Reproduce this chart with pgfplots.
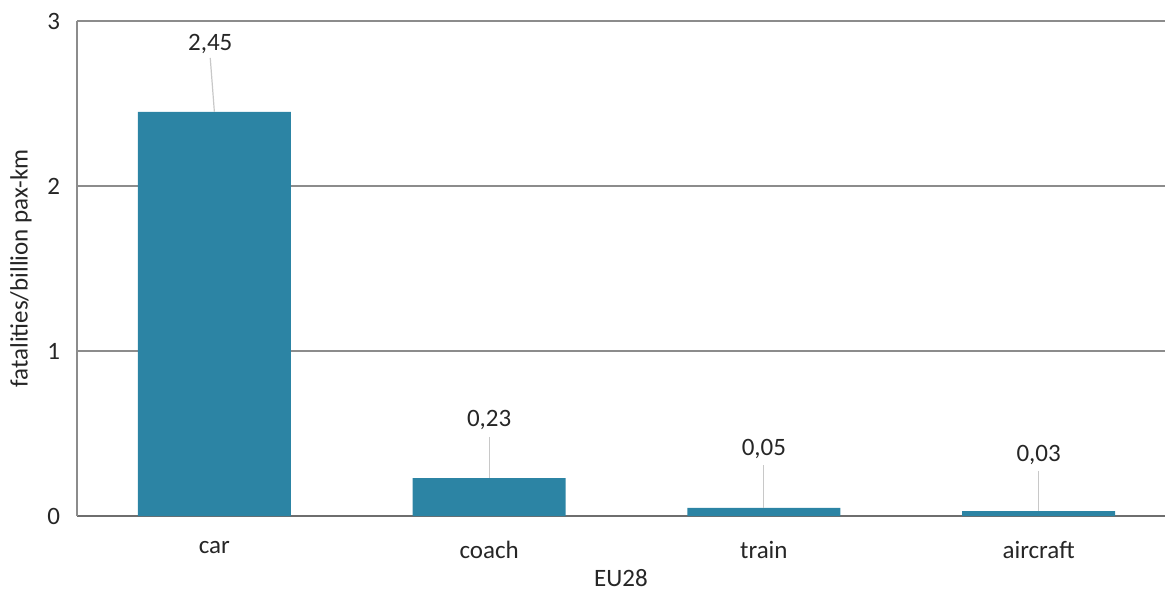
\documentclass[border=0pt]{standalone}
\usepackage{fontspec}
\setmainfont{Carlito}
\usepackage{pgfplots}
\pgfplotsset{compat=1.18}
\definecolor{barc}{HTML}{2C84A4}
\definecolor{gridc}{HTML}{8C8C8C}
\definecolor{axisc}{HTML}{6E6E6E}
\definecolor{leadc}{HTML}{C8C8C8}
\definecolor{txtc}{HTML}{262626}
\begin{document}
\begin{tikzpicture}
\begin{axis}[
  scale only axis, width=544bp, height=247.5bp,
  xmin=-0.5, xmax=3.46, ymin=0, ymax=3,
  xtick={0,1,2,3}, xticklabels={car,coach,train,aircraft},
  ytick={0,1,2,3},
  axis x line*=bottom, axis y line*=left,
  x axis line style={draw=axisc, line width=0.9bp},
  y axis line style={draw=gridc, line width=0.75bp},
  ymajorgrids, grid style={draw=gridc, line width=0.75bp},
  major tick length=0pt, tick style={draw=none},
  /pgf/number format/assume math mode=true,
  tick label style={font=\fontsize{12.5bp}{15bp}\selectfont, text=txtc},
  label style={font=\fontsize{12.5bp}{15bp}\selectfont, text=txtc},
  xticklabel style={yshift=-9bp},
  yticklabel style={xshift=-5bp},
  xlabel={EU28}, ylabel={fatalities/billion pax-km},
  xlabel style={yshift=1.5bp},
  ylabel style={yshift=1bp},
  clip=false,
]
\addplot[ybar, bar width=0.556, fill=barc, draw=none] coordinates {(0,2.45) (1,0.23) (2,0.05) (3,0.03)};
\addplot[leadc, line width=0.6bp] coordinates {(-0.015,2.776) (0,2.45)};
\addplot[leadc, line width=0.6bp] coordinates {(1,0.479) (1,0.23)};
\addplot[leadc, line width=0.6bp] coordinates {(2,0.309) (2,0.05)};
\addplot[leadc, line width=0.6bp] coordinates {(3,0.273) (3,0.03)};
\addplot[only marks, mark=none, nodes near coords, point meta=explicit symbolic,
  every node near coord/.style={anchor=center, font=\fontsize{12.5bp}{15bp}\selectfont, text=txtc}]
  table[meta=label] {
x y label
-0.015 2.86 {2,45}
1 0.58 {0,23}
2 0.406 {0,05}
3 0.37 {0,03}
};
\end{axis}
\pgfresetboundingbox
\path[use as bounding box] ([xshift=-38.5bp,yshift=-38.5bp]current axis.south west) rectangle ([yshift=10.5bp]current axis.north east);
\end{tikzpicture}
\end{document}
